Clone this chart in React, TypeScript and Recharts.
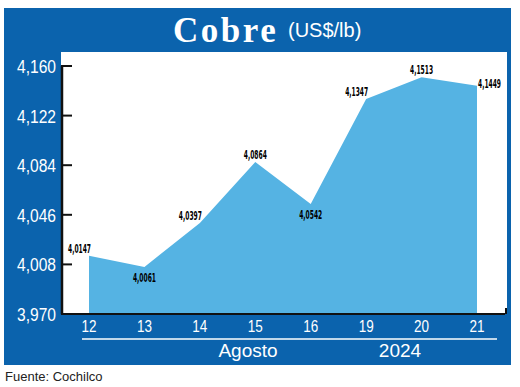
import { AreaChart, Area, XAxis, YAxis, LabelList } from 'recharts'

const DAYS = ['12', '13', '14', '15', '16', '19', '20', '21']
const PRICES = [4.0147, 4.0061, 4.0397, 4.0864, 4.0542, 4.1347, 4.1513, 4.1449]
const Y_TICKS = [3.97, 4.008, 4.046, 4.084, 4.122, 4.16]
// where each value label sits relative to its point
const LABEL_SPOTS = ['left', 'below', 'left', 'above', 'below', 'left', 'above', 'right']

const BLUE = '#0b63ad'
const FILL = '#55b3e3'
const NARROW = '"DejaVu Sans Condensed", "Liberation Sans", sans-serif'
const SANS = '"Liberation Sans", Arial, sans-serif'

const data = DAYS.map((d, i) => ({ day: d, price: PRICES[i] }))

const comma = (v: number, digits: number) => v.toFixed(digits).replace('.', ',')

function YTick(props: any) {
  const { x, y, payload } = props
  return (
    <g>
      <line x1={x - 1} x2={x + 10} y1={y} y2={y} stroke="#111" strokeWidth={2} />
      <text
        x={x - 6}
        y={y + 7}
        textAnchor="end"
        fill="#fff"
        fontSize={18}
        fontFamily={SANS}
        textLength={39}
        lengthAdjust="spacingAndGlyphs"
      >
        {comma(payload.value, 3)}
      </text>
    </g>
  )
}

function XTick(props: any) {
  const { x, y, payload } = props
  return (
    <text
      x={x}
      y={y + 18}
      textAnchor="middle"
      fill="#fff"
      fontSize={16}
      fontFamily={SANS}
      textLength={15}
      lengthAdjust="spacingAndGlyphs"
    >
      {payload.value}
    </text>
  )
}

function ValueLabel(props: any) {
  const { x, y, value, index } = props
  const spot = LABEL_SPOTS[index]
  let tx = x
  let ty = y - 3
  let anchor: 'start' | 'middle' | 'end' = 'middle'
  if (spot === 'left') {
    tx = x + 2
    ty = y - 3
    anchor = 'end'
  } else if (spot === 'below') {
    ty = y + 15
  } else if (spot === 'right') {
    tx = x + 1
    ty = y + 2
    anchor = 'start'
  }
  return (
    <text
      x={tx}
      y={ty}
      textAnchor={anchor}
      fill="#000"
      fontSize={13}
      fontWeight="bold"
      fontFamily={NARROW}
      textLength={23}
      lengthAdjust="spacingAndGlyphs"
    >
      {comma(value, 4)}
    </text>
  )
}

export default function App() {
  return (
    <div style={{ position: 'absolute', left: 0, top: 0, width: 520, height: 387, background: '#fff' }}>
      <div style={{ position: 'absolute', left: 4, top: 8, width: 507, height: 357, background: BLUE }} />
      <div style={{ position: 'absolute', left: 61, top: 52, width: 446, height: 261, background: '#fff' }} />
      <div style={{ position: 'absolute', left: 0, top: 0 }}>
        <AreaChart width={520} height={387} data={data} margin={{ top: 66, right: 15, left: 0, bottom: 33 }}>
          <XAxis
            dataKey="day"
            height={40}
            padding={{ left: 27, right: 28 }}
            axisLine={{ stroke: '#111', strokeWidth: 2 }}
            tickLine={false}
            tickSize={0}
            tickMargin={0}
            tick={<XTick />}
            interval={0}
          />
          <YAxis
            width={62}
            domain={[3.97, 4.16]}
            ticks={Y_TICKS}
            allowDataOverflow
            axisLine={{ stroke: '#111', strokeWidth: 2.5 }}
            tickLine={false}
            tickSize={0}
            tickMargin={0}
            tick={<YTick />}
            interval={0}
          />
          <Area
            type="linear"
            dataKey="price"
            stroke="none"
            fill={FILL}
            fillOpacity={1}
            dot={false}
            activeDot={false}
            isAnimationActive={false}
          >
            <LabelList dataKey="price" content={<ValueLabel />} />
          </Area>
        </AreaChart>
      </div>
      <svg width={520} height={387} style={{ position: 'absolute', left: 0, top: 0, pointerEvents: 'none' }}>
        <text x={173} y={42} fill="#fff" fontSize={35} fontWeight="bold" letterSpacing={2.5} fontFamily='"Liberation Serif", serif'>
          Cobre
        </text>
        <text x={288} y={37} fill="#fff" fontSize={20} fontFamily={SANS}>
          (US$/lb)
        </text>
        <line x1={506} x2={506} y1={308} y2={314} stroke="#111" strokeWidth={2} />
        <line x1={82} x2={497} y1={339} y2={339} stroke="#fff" strokeWidth={1.5} />
        <text x={248} y={357} textAnchor="middle" fill="#fff" fontSize={19} fontFamily={SANS}>
          Agosto
        </text>
        <text x={400} y={357} textAnchor="middle" fill="#fff" fontSize={19} fontFamily={SANS}>
          2024
        </text>
        <text x={5} y={381} fill="#222" fontSize={13} fontFamily={SANS}>
          Fuente: Cochilco
        </text>
      </svg>
    </div>
  )
}
